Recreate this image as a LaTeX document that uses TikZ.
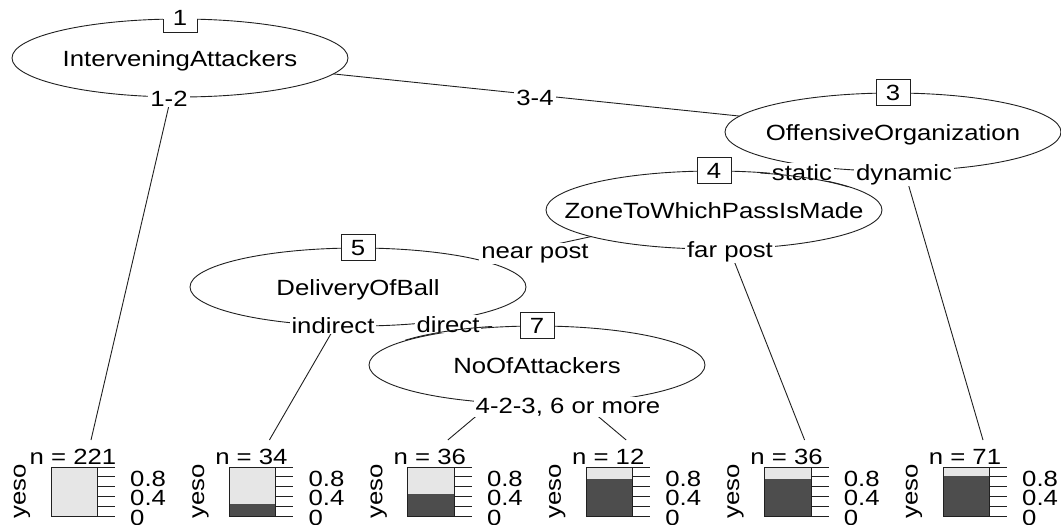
\documentclass[tikz,border=0pt]{standalone}
\usepackage{fontspec}
\setmainfont[FakeStretch=1.17]{Liberation Sans}
\usetikzlibrary{shapes.geometric,backgrounds}
\definecolor{lightbar}{HTML}{E6E6E6}
\definecolor{darkbar}{HTML}{4D4D4D}
\definecolor{ink}{HTML}{202020}
\begin{document}
\begin{tikzpicture}[x=1pt,y=-1pt,
  every node/.style={font=\fontsize{22}{26}\selectfont, text=black},
  innode/.style={ellipse, draw=ink, fill=white, line width=0.9pt, minimum width=336pt, minimum height=78pt, inner sep=0pt},
  idbox/.style={draw=ink, fill=white, line width=0.9pt, minimum width=34pt, minimum height=26pt, inner sep=0pt},
  edgelab/.style={fill=white, inner xsep=2pt, inner ysep=1pt, anchor=base},
  conn/.style={draw=ink, line width=0.9pt},
  tick/.style={draw=ink, line width=0.9pt},
  ticklab/.style={anchor=west, inner sep=0pt},
]
\useasboundingbox (0,0) rectangle (1061,525);
\clip (0,0) rectangle (1061,525);

% inner nodes
\node[innode] (n1) at (180,58) {};
\node[innode] (n3) at (893,132) {};
\node[innode] (n4) at (714,210) {};
\node[innode] (n5) at (358,287) {};
\node[innode] (n7) at (537,365) {};

\node[anchor=base] (t1) at (180,66) {InterveningAttackers};
\node[anchor=base] (t3) at (893,140) {OffensiveOrganization};
\node[anchor=base] (t4) at (714,218) {ZoneToWhichPassIsMade};
\node[anchor=base] (t5) at (358,295) {DeliveryOfBall};
\node[anchor=base] (t7) at (537,373) {NoOfAttackers};

% id boxes
\node[fill=white, minimum width=34pt, minimum height=32pt, inner sep=0pt] (b1) at (180,16) {};
\draw[conn] (163,19) -- (163,32) -- (197,32) -- (197,19);
\node[anchor=base] (d1) at (180,25.5) {1};
\node[idbox] (b3) at (n3.north) {3};
\node[idbox] (b4) at (n4.north) {4};
\node[idbox] (b5) at (n5.north) {5};
\node[idbox] (b7) at (n7.north) {7};

% edge labels
\node[edgelab] (l12) at (169,106) {1-2};
\node[edgelab] (l34) at (535,105.7) {3-4};
\node[edgelab] (lst) at (802,180) {static};
\node[edgelab] (ldy) at (904,180) {dynamic};
\node[edgelab] (lnp) at (535,258.5) {near post};
\node[edgelab] (lfp) at (730,257.5) {far post};
\node[edgelab] (lin) at (333,333) {indirect};
\node[edgelab] (ldi) at (448,332) {direct};
\node[edgelab] (l7) at (568,413) {4-2-3, 6 or more};

% child outlines crossing parent labels
\begin{scope}
\clip (760,158) rectangle (848,192);
\draw[conn] (n4.center) ellipse [x radius=168pt, y radius=38.5pt];
\end{scope}
\begin{scope}
\clip (405,312) rectangle (492,345);
\draw[conn] (n7.center) ellipse [x radius=168pt, y radius=40pt];
\end{scope}

% terminal panels
\foreach \i/\nn/\fr [count=\k] in {0/221/0, 1/34/0.246, 2/36/0.445, 3/12/0.76, 4/36/0.75, 5/71/0.81} {
  \pgfmathsetmacro{\L}{51+178.4*\i}
  \node[fill=lightbar, minimum width=46pt, minimum height=49pt, inner sep=0pt, anchor=north west] (box\k) at (\L,467) {};
  \fill[darkbar] (\L,516) rectangle (\L+46,516-49*\fr);
  \draw[conn] (box\k.north west) rectangle (box\k.south east);
  \foreach \t in {0,...,5} {
    \draw[tick] (\L+46,516-9.8*\t) -- (\L+64,516-9.8*\t);
  }
  \node[ticklab] (z\k) at (\L+79,518) {0};
  \node[ticklab] (f\k) at (\L+79,498.4) {0.4};
  \node[ticklab] (e\k) at (\L+79,478.8) {0.8};
  \node[anchor=base] (nl\k) at (\L+22,464) {n = \nn};
  \node[rotate=90, inner sep=0pt] (y\k) at (\L-29,491) {yeso};
  \coordinate (tp\k) at (\L+40,440);
}

% connectors
\begin{scope}[on background layer]
\draw[conn] (n1.center) -- (n3.center);
\draw[conn] (n1.center) -- (tp1);
\draw[conn] (n3.center) -- (n4.center);
\draw[conn] (n3.center) -- (tp6);
\draw[conn] (n4.center) -- (n5.center);
\draw[conn] (n4.center) -- (tp5);
\draw[conn] (n5.center) -- (tp2);
\draw[conn] (n5.center) -- (n7.center);
\draw[conn] (n7.center) -- (tp3);
\draw[conn] (n7.center) -- (tp4);
\end{scope}
\end{tikzpicture}
\end{document}
